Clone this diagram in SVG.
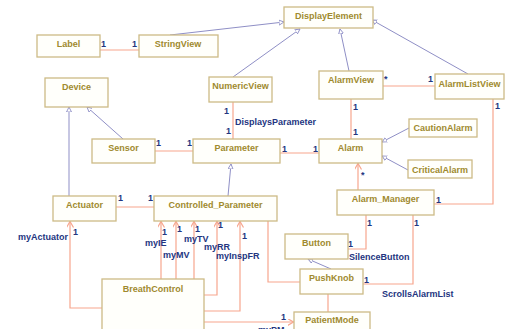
<svg xmlns="http://www.w3.org/2000/svg" width="505" height="329" viewBox="0 0 505 329">
<style>
.box{fill:#fffffb;stroke:#cdbb86;stroke-width:1.3}
.nm{font-family:"Liberation Sans",Arial,sans-serif;font-size:9px;font-weight:bold;fill:#a08a2e;text-anchor:middle}
.lb{font-family:"Liberation Sans",Arial,sans-serif;font-size:9px;font-weight:bold;fill:#24357f}
.as{fill:none;stroke:#f7a68e;stroke-width:1.2}
.gen{fill:none;stroke:#8f8fc6;stroke-width:1}
</style>
<defs>
<marker id="tri" markerUnits="userSpaceOnUse" markerWidth="7" markerHeight="7" refX="5" refY="3" orient="auto">
<path d="M0,0.5 L5,3 L0,5.5 z" fill="#fff" stroke="#8f8fc6" stroke-width="0.9"/>
</marker>
<marker id="opn" markerUnits="userSpaceOnUse" markerWidth="8" markerHeight="8" refX="6" refY="3.5" orient="auto">
<path d="M0,0 L6,3.5 L0,7" fill="none" stroke="#f7a68e" stroke-width="1.2"/>
</marker>
</defs>
<g id="connectors">
<path class="as" d="M100,50 H139"/>
<path class="as" d="M233,102 V139"/>
<path class="as" d="M155,151 H193"/>
<path class="as" d="M280,153 H319"/>
<path class="as" d="M351,99 V139"/>
<path class="as" d="M383,86 H435"/>
<path class="as" d="M493,99 V204 H434"/>
<path class="as" d="M358,190 V163.5" marker-end="url(#opn)"/>
<path class="as" d="M116,207 H154"/>
<path class="as" d="M366,215 V249 H348"/>
<path class="as" d="M413,215 V284 H363"/>
<path class="as" d="M268,221 V282 H300"/>
<path class="as" d="M328,294 V312"/>
<path class="as" d="M161,279 V221.5" marker-end="url(#opn)"/>
<path class="as" d="M176,279 V221.5" marker-end="url(#opn)"/>
<path class="as" d="M194,279 V221.5" marker-end="url(#opn)"/>
<path class="as" d="M204,295 H217 V221.5" marker-end="url(#opn)"/>
<path class="as" d="M204,311 H240 V221.5" marker-end="url(#opn)"/>
<path class="as" d="M102,308 H70 V221.5" marker-end="url(#opn)"/>
<path class="as" d="M204,322 H293.5" marker-end="url(#opn)"/>
<path class="gen" d="M170,35 L284,22" marker-end="url(#tri)"/>
<path class="gen" d="M233,77 L300,29" marker-end="url(#tri)"/>
<path class="gen" d="M349,71 L340,29" marker-end="url(#tri)"/>
<path class="gen" d="M468,74 L372,20" marker-end="url(#tri)"/>
<path class="gen" d="M123,139 L87,107" marker-end="url(#tri)"/>
<path class="gen" d="M69,196 V107" marker-end="url(#tri)"/>
<path class="gen" d="M228,196 L231,164" marker-end="url(#tri)"/>
<path class="gen" d="M409,128 L382,142" marker-end="url(#tri)"/>
<path class="gen" d="M408,170 L382,156" marker-end="url(#tri)"/>
<path class="gen" d="M331,269 L308,259" marker-end="url(#tri)"/>
<text class="lb" x="101" y="47">1</text>
<text class="lb" x="132" y="47">1</text>
<text class="lb" x="224" y="114">1</text>
<text class="lb" x="226" y="134">1</text>
<text class="lb" x="235" y="125">DisplaysParameter</text>
<text class="lb" x="156" y="146">1</text>
<text class="lb" x="187" y="146">1</text>
<text class="lb" x="282" y="152">1</text>
<text class="lb" x="313" y="152">1</text>
<text class="lb" x="353" y="110">1</text>
<text class="lb" x="353" y="135">1</text>
<text class="lb" x="384" y="82">*</text>
<text class="lb" x="428" y="82">1</text>
<text class="lb" x="495" y="109">1</text>
<text class="lb" x="436" y="203">1</text>
<text class="lb" x="361" y="178">*</text>
<text class="lb" x="118" y="201">1</text>
<text class="lb" x="148" y="201">1</text>
<text class="lb" x="367" y="226">1</text>
<text class="lb" x="348" y="247">1</text>
<text class="lb" x="349" y="260">SilenceButton</text>
<text class="lb" x="414" y="226">1</text>
<text class="lb" x="364" y="283">1</text>
<text class="lb" x="382" y="297">ScrollsAlarmList</text>
<text class="lb" x="73" y="235">1</text>
<text class="lb" x="18" y="240">myActuator</text>
<text class="lb" x="162" y="235">1</text>
<text class="lb" x="145" y="246">myIE</text>
<text class="lb" x="177" y="232">1</text>
<text class="lb" x="163" y="258">myMV</text>
<text class="lb" x="195" y="232">1</text>
<text class="lb" x="184" y="242">myTV</text>
<text class="lb" x="204" y="250">myRR</text>
<text class="lb" x="218" y="228">1</text>
<text class="lb" x="242" y="239">1</text>
<text class="lb" x="216" y="259">myInspFR</text>
<text class="lb" x="281" y="320">1</text>
<text class="lb" x="258" y="333">myPM</text>
</g>
<g id="DisplayElement"><rect class="box" x="284" y="7" width="89" height="21"/><text class="nm" x="328.5" y="19">DisplayElement</text></g>
<g id="Label"><rect class="box" x="37" y="35" width="63" height="22"/><text class="nm" x="68.5" y="47">Label</text></g>
<g id="StringView"><rect class="box" x="139" y="35" width="79" height="22"/><text class="nm" x="178" y="47">StringView</text></g>
<g id="Device"><rect class="box" x="45" y="78" width="63" height="29"/><text class="nm" x="76.5" y="90">Device</text></g>
<g id="NumericView"><rect class="box" x="209" y="77" width="63" height="25"/><text class="nm" x="240.5" y="89">NumericView</text></g>
<g id="AlarmView"><rect class="box" x="319" y="71" width="64" height="28"/><text class="nm" x="351" y="83">AlarmView</text></g>
<g id="AlarmListView"><rect class="box" x="435" y="74" width="69" height="25"/><text class="nm" x="469.5" y="87">AlarmListView</text></g>
<g id="Sensor"><rect class="box" x="92" y="139" width="63" height="24"/><text class="nm" x="123.5" y="151">Sensor</text></g>
<g id="Parameter"><rect class="box" x="193" y="139" width="87" height="24"/><text class="nm" x="236.5" y="151">Parameter</text></g>
<g id="Alarm"><rect class="box" x="319" y="139" width="63" height="24"/><text class="nm" x="350.5" y="151">Alarm</text></g>
<g id="CautionAlarm"><rect class="box" x="409" y="119" width="68" height="18"/><text class="nm" x="443" y="131">CautionAlarm</text></g>
<g id="CriticalAlarm"><rect class="box" x="408" y="160" width="64" height="18"/><text class="nm" x="440" y="173">CriticalAlarm</text></g>
<g id="Actuator"><rect class="box" x="53" y="196" width="63" height="25"/><text class="nm" x="84.5" y="208">Actuator</text></g>
<g id="Controlled_Parameter"><rect class="box" x="154" y="196" width="123" height="25"/><text class="nm" x="215.5" y="208">Controlled_Parameter</text></g>
<g id="Alarm_Manager"><rect class="box" x="337" y="190" width="97" height="25"/><text class="nm" x="385.5" y="202">Alarm_Manager</text></g>
<g id="Button"><rect class="box" x="285" y="234" width="63" height="25"/><text class="nm" x="316.5" y="246">Button</text></g>
<g id="PushKnob"><rect class="box" x="300" y="269" width="63" height="25"/><text class="nm" x="331.5" y="281">PushKnob</text></g>
<g id="PatientMode"><rect class="box" x="294" y="312" width="76" height="25"/><text class="nm" x="332" y="323">PatientMode</text></g>
<g id="BreathControl"><rect class="box" x="102" y="279" width="102" height="60"/><text class="nm" x="153" y="292">BreathControl</text></g>
</svg>
